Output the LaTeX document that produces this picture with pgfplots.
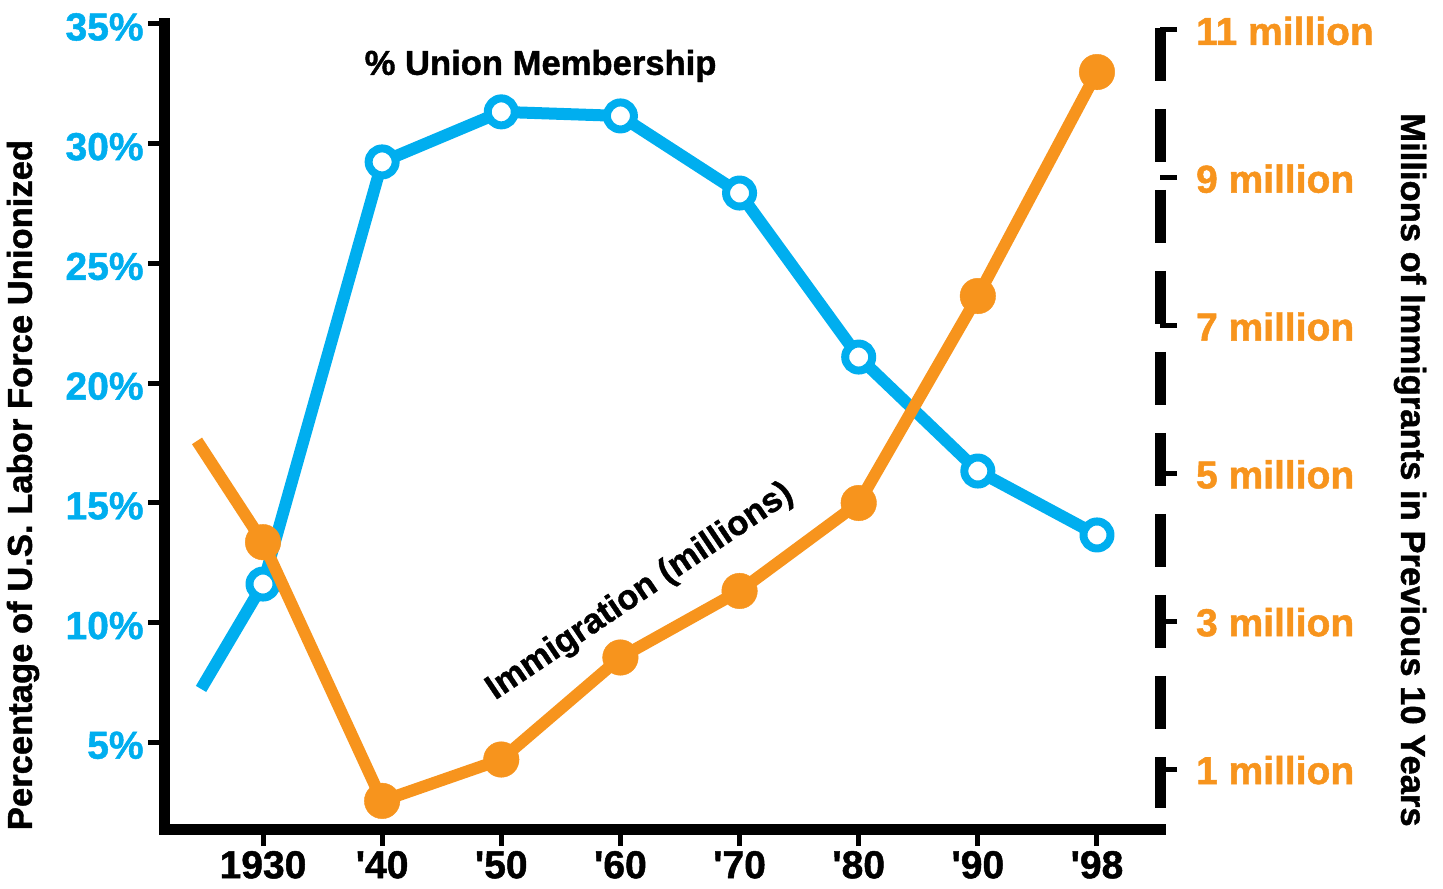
\documentclass[border=0pt]{standalone}
\usepackage{fontspec}
\setmainfont{Liberation Sans}[BoldFeatures={FakeBold=1.2}]
\usepackage{pgfplots}
\pgfplotsset{compat=1.18}
\definecolor{ublue}{HTML}{00AEEF}
\definecolor{iorange}{HTML}{F7941D}
\begin{document}
\begin{tikzpicture}
\useasboundingbox (-82.5pt,-29.5pt) rectangle (639pt,414.5pt);
\pgfplotsset{
  common/.style={
    at={(0pt,0pt)}, anchor=south west,
    width=497.5pt, height=402.5pt, scale only axis,
    xmin=-0.8226, xmax=7.529,
    clip=false,
    tick align=outside,
    major tick length=8.5pt,
    /pgf/number format/assume math mode=true,
    tick label style={font=\fontsize{19.5}{19.5}\selectfont\bfseries},
    tick style={line width=2.5pt, black},
  }
}
\begin{axis}[common,
  axis x line*=bottom, axis y line*=left,
  axis line style={line width=5.5pt, line cap=rect},
  ymin=1.38, ymax=35,
  ytick={5,10,15,20,25,30,35},
  yticklabels={5\%,10\%,15\%,20\%,25\%,30\%,35\%},
  yticklabel style={text=ublue, inner xsep=2pt, yshift=-1.5pt},
  xtick={0,1,2,3,4,5,6,7},
  xticklabels={1930,\textquotesingle40,\textquotesingle50,\textquotesingle60,\textquotesingle70,\textquotesingle80,\textquotesingle90,\textquotesingle98},
  xticklabel style={yshift=-0.8pt, inner ysep=1.5pt},
]
\addplot[ublue, line width=6pt, line join=round, mark=*, mark size=6.75pt,
  mark indices={2,3,4,5,6,7,8,9},
  mark options={fill=white, draw=ublue, line width=4pt}]
  coordinates {(-0.52,7.23) (0,11.61) (1,29.24) (2,31.33) (3,31.16) (4,27.94) (5,21.09) (6,16.33) (7,13.66)};
\node[font=\fontsize{17.3}{17.3}\selectfont\bfseries] at (axis cs:2.33,33.25) {\% Union Membership};
\node[font=\fontsize{17.3}{17.3}\selectfont\bfseries, rotate=34] at (axis cs:3.165,11.28) {Immigration (millions)};
\node[font=\fontsize{17.3}{17.3}\selectfont\bfseries, rotate=90] at (axis description cs:-0.1427,0.4273) {Percentage of U.S. Labor Force Unionized};
\end{axis}
\begin{axis}[common,
  axis x line=none, axis y line*=right,
  y axis line style={draw=none},
  ymin=0.19, ymax=11.08,
  ytick={1,3,5,7,9,11},
  yticklabels={1 million,3 million,5 million,7 million,9 million,11 million},
  yticklabel style={text=iorange, anchor=west, xshift=6pt, yshift=-0.5pt},
]
\addplot[iorange, line width=6pt, line join=round, mark=*, mark size=8.9pt,
  mark indices={2,3,4,5,6,7,8,9},
  mark options={fill=iorange, draw=iorange, line width=0.2pt}]
  coordinates {(-0.554,5.44) (0,4.07) (1,0.57) (2,1.13) (3,2.51) (4,3.41) (5,4.60) (6,7.40) (7,10.43)};
\node[font=\fontsize{17.3}{17.3}\selectfont\bfseries, rotate=-90] at (axis description cs:1.2513,0.446) {Millions of Immigrants in Previous 10 Years};
\end{axis}
\draw[line width=5.5pt, dash pattern=on 26.5pt off 14pt] (497.5pt,400.5pt) -- (497.5pt,10.5pt);
\end{tikzpicture}
\end{document}
